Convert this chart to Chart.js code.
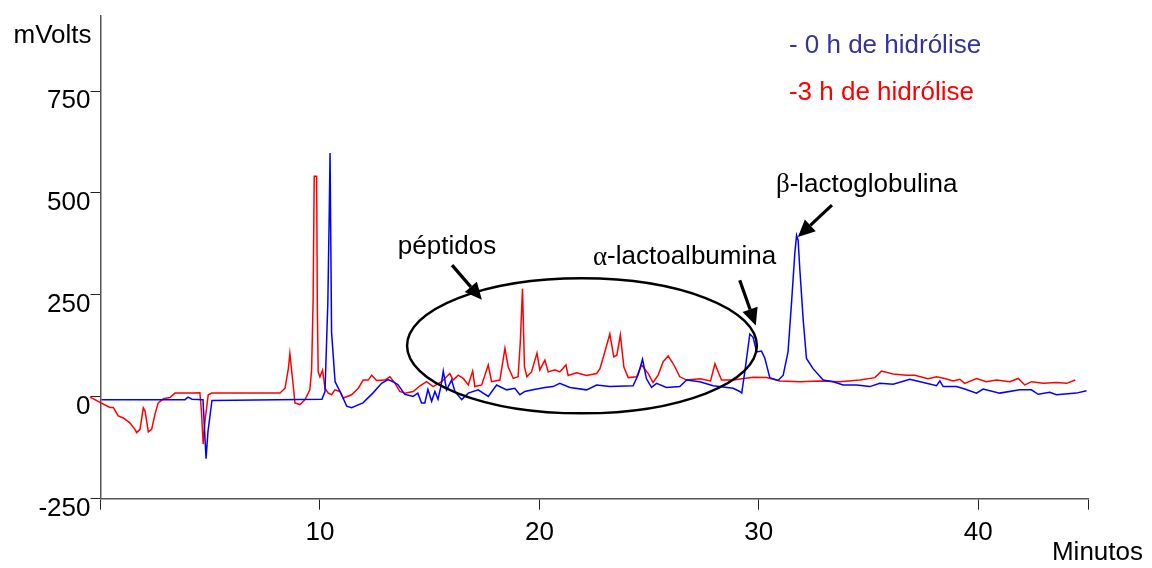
<!DOCTYPE html>
<html><head><meta charset="utf-8">
<script src="https://cdn.jsdelivr.net/npm/chart.js@4.4.1/dist/chart.umd.min.js"></script>
<style>html,body{margin:0;padding:0;background:#fff}#wrap{width:1152px;height:568px}</style>
</head><body><div id="wrap"><canvas id="c" width="1152" height="568"></canvas></div>
<script>
// ---- data (minutes, mVolts) ----
const timeBlue = [0.05,3.85,3.99,4.17,4.67,4.81,4.90,5.08,10.09,10.23,
10.36,10.43,10.46,10.53,10.69,10.82,10.96,11.22,11.44,11.96,
12.41,12.81,13.10,13.33,13.55,13.87,14.24,14.46,14.63,14.78,
14.92,15.09,15.24,15.38,15.51,15.62,15.77,16.00,16.15,16.46,
16.76,17.21,17.67,18.05,18.51,18.88,19.11,19.34,19.70,20.25,
20.62,20.93,21.39,22.15,22.61,23.21,24.27,24.50,24.70,24.88,
25.11,25.34,25.79,26.40,26.71,27.31,27.92,28.83,29.13,29.22,
29.36,29.59,29.74,29.90,30.12,30.27,30.50,30.88,31.11,31.33,
31.49,31.64,31.72,31.79,31.87,32.02,32.17,32.47,32.93,33.39,
33.84,34.45,35.06,35.51,36.12,36.88,37.64,38.10,38.25,38.40,
39.01,39.38,39.92,40.22,40.98,41.89,42.42,42.73,43.26,43.56,
44.47,44.93];
const valuesBlue = [-7,-7,-1,-6,-7,-152,-84,-9,-6,13,
231,473,598,158,37,23,8,-23,-27,-15,
9,33,42,37,30,6,1,9,-15,-15,
18,-11,13,-6,25,63,17,41,13,-7,
9,17,1,29,17,21,5,13,17,23,
25,33,23,17,29,25,27,54,92,44,
23,33,23,25,41,37,27,21,13,9,
61,154,146,110,112,95,47,40,53,110,
231,352,396,384,311,190,94,69,41,37,
29,29,25,33,31,43,33,27,39,25,
25,19,9,19,9,17,17,6,11,5,
9,15];
const timeRed = [-0.48,0.43,0.58,0.81,1.04,1.34,1.57,1.65,1.80,1.95,
2.03,2.18,2.33,2.48,2.63,2.86,3.17,3.39,4.21,4.53,
4.60,4.68,4.76,4.91,5.07,8.18,8.41,8.56,8.63,8.78,
8.86,9.09,9.32,9.54,9.62,9.69,9.74,9.85,9.88,9.92,
10.00,10.12,10.23,10.38,10.53,10.68,10.91,11.06,11.44,11.75,
11.97,12.20,12.36,12.58,12.96,13.19,13.42,13.64,13.87,14.25,
14.56,14.86,15.16,15.54,15.92,16.07,16.30,16.53,16.76,16.96,
17.06,17.37,17.67,17.82,18.20,18.43,18.58,18.81,19.03,19.13,
19.23,19.32,19.43,19.64,19.89,20.02,20.25,20.40,20.71,20.93,
21.21,21.31,21.69,22.15,22.61,22.76,22.98,23.21,23.39,23.53,
23.69,23.85,24.05,24.43,24.66,24.96,25.18,25.41,25.64,25.87,
26.10,26.40,26.71,27.31,27.80,28.00,28.15,28.30,28.83,29.74,
30.35,30.96,31.87,32.78,33.69,34.60,35.29,35.59,36.12,36.73,
37.11,37.71,38.10,38.47,38.85,39.16,39.38,39.92,40.37,40.83,
41.44,41.82,42.12,42.43,42.96,43.57,44.03,44.42];
const valuesRed = [-1,-26,-26,-47,-52,-64,-80,-88,-80,-27,
-35,-86,-80,-43,-15,-5,-2,9,9,10,
-35,-116,-60,5,9,9,21,69,106,29,
-15,-19,-7,17,65,239,541,541,223,61,
49,65,21,9,5,17,13,-3,5,21,
41,41,53,40,41,49,33,13,9,13,
27,37,25,37,57,41,53,45,29,63,
25,29,78,37,41,119,73,45,49,134,
265,73,49,61,107,66,90,61,66,61,
78,52,59,52,57,69,110,154,98,102,
152,73,47,49,78,57,35,53,86,100,
81,49,41,44,39,81,61,41,41,48,
47,39,37,39,37,41,47,63,56,53,
53,44,49,45,39,43,33,45,37,41,
37,45,29,37,33,35,33,41];
const xTicks = [0,10,20,30,40,45];
const xTickLabels = ['','10','20','30','40',''];
const yTicks = [-250,0,250,500,750];
const seriesNames = ['- 0 h de hidrólise','-3 h de hidrólise'];

// ---- annotations (in data units) ----
const FONT = '"Liberation Sans", Arial, Helvetica, sans-serif';
const notes = {
  ellipse: {t:21.94, v:125, rt:7.97, rv:165.7},
  labels: [
    {greek:'', text:'péptidos', t:13.55, v:369},
    {greek:'α', text:'-lactoalbumina', t:22.44, v:344},
    {greek:'β', text:'-lactoglobulina', t:30.78, v:521}
  ],
  arrows: [
    {t1:16.02, v1:323, t2:17.38, v2:238},
    {t1:29.13, v1:286, t2:29.86, v2:175},
    {t1:33.33, v1:470, t2:31.78, v2:392}
  ],
  legend: [{t:31.37, v:862, color:'#333399'},{t:31.37, v:746, color:'#ff0000'}]
};

function arrow(ctx,x1,y1,x2,y2){
  const ang=Math.atan2(y2-y1,x2-x1), L=17, W=8;
  const bx=x2-L*Math.cos(ang), by=y2-L*Math.sin(ang);
  ctx.beginPath(); ctx.moveTo(x1,y1); ctx.lineTo(bx,by); ctx.lineWidth=3.2; ctx.stroke();
  ctx.beginPath(); ctx.moveTo(x2,y2);
  ctx.lineTo(bx+W*Math.sin(ang), by-W*Math.cos(ang));
  ctx.lineTo(bx-W*Math.sin(ang), by+W*Math.cos(ang));
  ctx.closePath(); ctx.fill();
}

const overlay = {
  id:'overlay',
  afterDraw(chart){
    const {ctx, chartArea:a, scales:{x,y}} = chart;
    const px=t=>x.getPixelForValue(t), py=v=>y.getPixelForValue(v);
    ctx.save();
    ctx.fillStyle='#000'; ctx.strokeStyle='#000';
    // axis titles
    ctx.font='26px '+FONT; ctx.textAlign='right'; ctx.textBaseline='middle';
    ctx.fillText('mVolts', a.left-9, a.top+20);
    ctx.fillText('Minutos', a.right+55, a.bottom+54);
    // ellipse
    const e=notes.ellipse;
    const cx=px(e.t), cy=py(e.v), rx=Math.abs(px(e.t+e.rt)-cx), ry=Math.abs(py(e.v+e.rv)-cy);
    ctx.beginPath(); ctx.ellipse(cx,cy,rx,ry,0,0,Math.PI*2); ctx.lineWidth=2.5; ctx.stroke();
    // arrows
    notes.arrows.forEach(r=>arrow(ctx,px(r.t1),py(r.v1),px(r.t2),py(r.v2)));
    // labels
    ctx.textAlign='left'; ctx.textBaseline='middle';
    notes.labels.forEach(l=>{
      let xx=px(l.t);
      if(l.greek){ ctx.font='27px "Liberation Serif", "DejaVu Serif", serif'; ctx.fillText(l.greek,xx,py(l.v)+1); xx+=ctx.measureText(l.greek).width; }
      ctx.font='26px '+FONT; ctx.fillText(l.text,xx,py(l.v));
    });
    // legend text
    notes.legend.forEach((g,i)=>{ ctx.fillStyle=g.color; ctx.fillText(seriesNames[i], px(g.t), py(g.v)); });
    ctx.restore();
  }
};

new Chart(document.getElementById('c'), {
  type:'line',
  data:{datasets:[
    {label:seriesNames[0], data:timeBlue.map((t,i)=>({x:t,y:valuesBlue[i]})), borderColor:'#0000ff', borderWidth:1.5, pointRadius:0, tension:0, fill:false},
    {label:seriesNames[1], data:timeRed.map((t,i)=>({x:t,y:valuesRed[i]})), borderColor:'#ff0000', borderWidth:1.5, pointRadius:0, tension:0, fill:false, clip:false}
  ]},
  options:{
    responsive:false, animation:false, devicePixelRatio:1,
    layout:{padding:{top:9,right:64,left:0,bottom:0}},
    plugins:{legend:{display:false}, tooltip:{enabled:false}},
    scales:{
      x:{type:'linear', min:0, max:45,
        afterBuildTicks:s=>{s.ticks=xTicks.map(v=>({value:v}));},
        afterFit:s=>{s.height=69.3;},
        ticks:{autoSkip:false, maxRotation:0, padding:8, color:'#000', font:{family:FONT,size:26},
          callback:(v)=>{const i=xTicks.indexOf(v); return i>=0?xTickLabels[i]:'';}},
        grid:{display:true, drawOnChartArea:false, drawTicks:true, tickLength:11, color:'#222', lineWidth:1},
        border:{display:true, color:'#555', width:1.5}
      },
      y:{type:'linear', min:-250, max:935,
        afterBuildTicks:s=>{s.ticks=yTicks.map(v=>({value:v}));},
        afterFit:s=>{s.width=100.5;},
        ticks:{autoSkip:false, padding:0, labelOffset:10, color:'#000', font:{family:FONT,size:26}},
        grid:{display:true, drawOnChartArea:false, drawTicks:true, tickLength:10, color:'#222', lineWidth:1},
        border:{display:true, color:'#555', width:1.5}
      }
    }
  },
  plugins:[overlay]
});
</script></body></html>
